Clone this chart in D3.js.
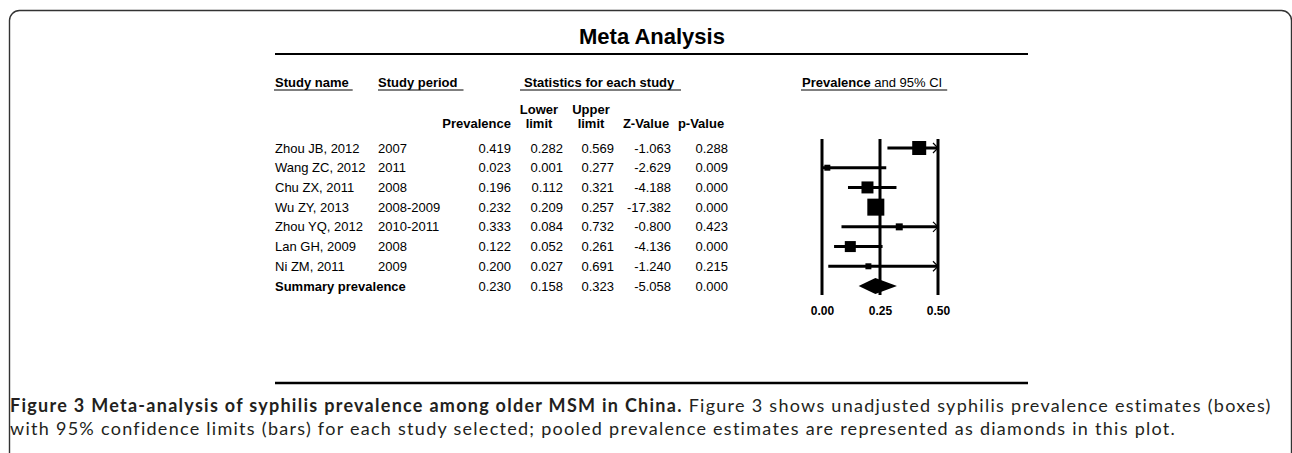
<!DOCTYPE html>
<html>
<head>
<meta charset="utf-8">
<script src="https://cdn.jsdelivr.net/npm/d3@7"></script>
<style>
  body { margin: 0; background: #fff; }
  svg { display: block; }
  .tbl { font-family: "Liberation Sans", Arial, sans-serif; font-size: 13px; fill: #000; }
  .hdr { font-weight: bold; }
  .cap { font-family: Lato, "Open Sans", sans-serif; font-size: 18px; fill: #231f20; }
</style>
</head>
<body>
<div id="chart"></div>
<script>
// study rows
const studies = ["Zhou JB, 2012", "Wang ZC, 2012", "Chu ZX, 2011", "Wu ZY, 2013", "Zhou YQ, 2012", "Lan GH, 2009", "Ni ZM, 2011"];
const periods = ["2007", "2011", "2008", "2008-2009", "2010-2011", "2008", "2009"];
const prevalence = [0.419, 0.023, 0.196, 0.232, 0.333, 0.122, 0.200];
const lowerLimit = [0.282, 0.001, 0.112, 0.209, 0.084, 0.052, 0.027];
const upperLimit = [0.569, 0.277, 0.321, 0.257, 0.732, 0.261, 0.691];
const zValues = [-1.063, -2.629, -4.188, -17.382, -0.800, -4.136, -1.240];
const pValues = [0.288, 0.009, 0.000, 0.000, 0.423, 0.000, 0.215];
// relative weights (box area)
const weights = [22.5, 4.1, 16.5, 33.2, 5.6, 13.9, 4.1];

// pooled estimate
const summaryLabel = "Summary prevalence";
const summaryStats = [0.230, 0.158, 0.323, -5.058, 0.000];

const axisTicks = [0.00, 0.25, 0.50];

const width = 1292, height = 453;

const svg = d3.select("#chart").append("svg")
    .attr("width", width)
    .attr("height", height);

// outer frame (rounded box, runs off the bottom)
svg.append("rect")
    .attr("x", 9.5).attr("y", 10.5)
    .attr("width", 1282).attr("height", 480)
    .attr("rx", 10)
    .attr("fill", "none")
    .attr("stroke", "#333")
    .attr("stroke-width", 1.4);

// title + rules
svg.append("text")
    .attr("x", 652).attr("y", 44)
    .attr("text-anchor", "middle")
    .style("font-family", "'Liberation Sans', Arial, sans-serif")
    .style("font-weight", "bold")
    .style("font-size", "22px")
    .text("Meta Analysis");

svg.append("line")
    .attr("x1", 275).attr("x2", 1028)
    .attr("y1", 54).attr("y2", 54)
    .attr("stroke", "#000").attr("stroke-width", 2);

svg.append("line")
    .attr("x1", 275).attr("x2", 1028)
    .attr("y1", 383).attr("y2", 383)
    .attr("stroke", "#000").attr("stroke-width", 2.5);

// rows
const rowNames = studies.concat([summaryLabel]);
const y = d3.scalePoint().domain(rowNames).range([148, 286]);

const rows = studies.map((s, i) => ({
  name: s,
  period: periods[i],
  stats: [prevalence[i], lowerLimit[i], upperLimit[i], zValues[i], pValues[i]],
  est: prevalence[i],
  lo: lowerLimit[i],
  hi: upperLimit[i],
  w: weights[i]
}));

const tbl = svg.append("g").attr("class", "tbl");

// column headers
function underlined(x, yy, str, padL, padR) {
  const t = tbl.append("text")
      .attr("x", x).attr("y", yy)
      .attr("class", "hdr")
      .text(str);
  const bb = t.node().getBBox();
  tbl.append("line")
      .attr("x1", bb.x - padL).attr("x2", bb.x + bb.width + padR)
      .attr("y1", yy + 3).attr("y2", yy + 3)
      .attr("stroke", "#000").attr("stroke-width", 1.2);
  return t;
}

underlined(275, 87, "Study name", 1, 4);
underlined(378, 87, "Study period", 0, 6);
underlined(524, 87, "Statistics for each study", 4, 6);

// forest header: bold part + plain part
const fh = tbl.append("text").attr("x", 802).attr("y", 87);
fh.append("tspan").attr("class", "hdr").text("Prevalence");
fh.append("tspan").text(" and 95% CI");
const fb = fh.node().getBBox();
tbl.append("line")
    .attr("x1", fb.x - 1).attr("x2", fb.x + fb.width + 5)
    .attr("y1", 90).attr("y2", 90)
    .attr("stroke", "#000").attr("stroke-width", 1.2);

// stats columns: right edge of numbers, header centre
const colRight = [511, 563, 614, 671, 728];
const subTop = [null, "Lower", "Upper", null, null];
const subBottom = ["Prevalence", "limit", "limit", "Z-Value", "p-Value"];
const subCenter = [null, 539, 591, 646, 701];

subBottom.forEach((s, i) => {
  if (i === 0) {
    tbl.append("text").attr("class", "hdr")
        .attr("x", colRight[0]).attr("y", 128)
        .attr("text-anchor", "end").text(s);
  } else {
    tbl.append("text").attr("class", "hdr")
        .attr("x", subCenter[i]).attr("y", 128)
        .attr("text-anchor", "middle").text(s);
  }
  if (subTop[i]) {
    tbl.append("text").attr("class", "hdr")
        .attr("x", subCenter[i]).attr("y", 114)
        .attr("text-anchor", "middle").text(subTop[i]);
  }
});

// plain hyphen for negatives, like the source table
const fmt = d3.formatLocale({decimal: ".", thousands: ",", grouping: [3], currency: ["", ""], minus: "-"}).format(".3f");

const rowG = tbl.selectAll(".row")
    .data(rows)
  .enter().append("g")
    .attr("class", "row")
    .attr("transform", (d) => "translate(0," + (y(d.name) + 4.5) + ")");

rowG.append("text").attr("x", 275).text((d) => d.name);
rowG.append("text").attr("x", 378).text((d) => d.period);
colRight.forEach((cx, j) => {
  rowG.append("text")
      .attr("x", cx)
      .attr("text-anchor", "end")
      .text((d) => fmt(d.stats[j]));
});

// summary row
const sumG = tbl.append("g")
    .attr("transform", "translate(0," + (y(summaryLabel) + 4.5) + ")");
sumG.append("text").attr("x", 275).attr("class", "hdr").text(summaryLabel);
summaryStats.forEach((v, j) => {
  sumG.append("text")
      .attr("x", colRight[j])
      .attr("text-anchor", "end")
      .text(fmt(v));
});

// forest plot
const x = d3.scaleLinear().domain([0, 0.5]).range([822, 938]);
const box = d3.scaleSqrt().domain([0, d3.max(weights)]).range([0, 17]);
const plot = svg.append("g");

axisTicks.forEach((t) => {
  plot.append("line")
      .attr("x1", x(t)).attr("x2", x(t))
      .attr("y1", 139).attr("y2", 295)
      .attr("stroke", "#000").attr("stroke-width", 3);
});

const xMax = x.domain()[1];

plot.selectAll(".ci")
    .data(rows)
  .enter().append("line")
    .attr("class", "ci")
    .attr("x1", (d) => x(Math.max(0, d.lo)))
    .attr("x2", (d) => x(Math.min(xMax, d.hi)))
    .attr("y1", (d) => y(d.name))
    .attr("y2", (d) => y(d.name))
    .attr("stroke", "#000")
    .attr("stroke-width", 3);

// arrow heads where CI runs past the axis
plot.selectAll(".arrow")
    .data(rows.filter((d) => d.hi > xMax))
  .enter().append("path")
    .attr("class", "arrow")
    .attr("d", (d) => {
      const ax = x(xMax), ay = y(d.name);
      return "M" + (ax - 5) + "," + (ay - 5) + "L" + ax + "," + ay + "L" + (ax - 5) + "," + (ay + 5);
    })
    .attr("fill", "none")
    .attr("stroke", "#000")
    .attr("stroke-width", 1.2);

plot.selectAll(".box")
    .data(rows)
  .enter().append("rect")
    .attr("class", "box")
    .attr("x", (d) => x(d.est) - box(d.w) / 2)
    .attr("y", (d) => y(d.name) - box(d.w) / 2)
    .attr("width", (d) => box(d.w))
    .attr("height", (d) => box(d.w))
    .attr("fill", "#000");

// pooled diamond
const sy = y(summaryLabel);
plot.append("path")
    .attr("d", "M" + x(summaryStats[1]) + "," + sy +
               "L" + x(summaryStats[0]) + "," + (sy - 8) +
               "L" + x(summaryStats[2]) + "," + sy +
               "L" + x(summaryStats[0]) + "," + (sy + 8) + "Z")
    .attr("fill", "#000");

// tick labels
const axis = d3.axisBottom(x)
    .tickValues(axisTicks)
    .tickFormat(d3.format(".2f"))
    .tickSize(0)
    .tickPadding(0);

const axG = svg.append("g")
    .attr("transform", "translate(0,306)")
    .call(axis);
axG.select(".domain").remove();
axG.selectAll("text")
    .attr("dy", "0.71em")
    .style("font-family", "'Liberation Sans', Arial, sans-serif")
    .style("font-size", "12px")
    .style("font-weight", "bold")
    .attr("fill", "#000");

// caption; a little tracking so the first line spans the text block
const cap = svg.append("g").attr("class", "cap");
const l1 = cap.append("text").attr("x", 10).attr("y", 412);
l1.append("tspan").style("font-weight", "bold")
    .text("Figure 3 Meta-analysis of syphilis prevalence among older MSM in China.");
l1.append("tspan")
    .text(" Figure 3 shows unadjusted syphilis prevalence estimates (boxes)");
cap.append("text").attr("x", 10).attr("y", 435)
    .text("with 95% confidence limits (bars) for each study selected; pooled prevalence estimates are represented as diamonds in this plot.");
const capLen = l1.node().getComputedTextLength();
const nChars = l1.text().length;
cap.style("letter-spacing", Math.max(0, (1262 - capLen) / nChars).toFixed(3) + "px");
</script>
</body>
</html>
